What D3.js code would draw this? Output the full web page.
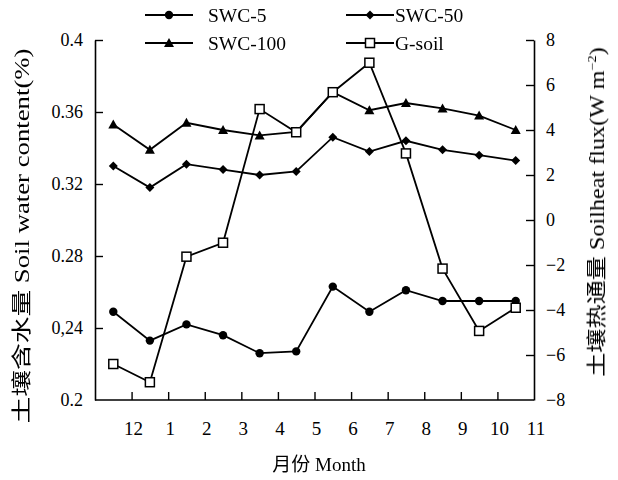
<!DOCTYPE html>
<html>
<head>
<meta charset="utf-8">
<script src="https://cdn.jsdelivr.net/npm/d3@7"></script>
<style>
  body { margin: 0; background: #fff; }
  svg text { font-family: "Liberation Serif", "Noto Sans CJK SC", serif; fill: #000; }
</style>
</head>
<body>
<svg id="chart"></svg>
<script>
// month labels (Dec .. Nov), points sit between ticks
const months = ["12", "1", "2", "3", "4", "5", "6", "7", "8", "9", "10", "11"];
const swc5 = [0.249, 0.233, 0.242, 0.236, 0.226, 0.227, 0.263, 0.249, 0.261, 0.255, 0.255, 0.255];
const swc50 = [0.330, 0.318, 0.331, 0.328, 0.325, 0.327, 0.346, 0.338, 0.344, 0.339, 0.336, 0.333];
const swc100 = [0.353, 0.339, 0.354, 0.350, 0.347, 0.349, 0.371, 0.361, 0.365, 0.362, 0.358, 0.350];
const gsoil = [-6.40, -7.21, -1.63, -1.01, 4.93, 3.90, 5.68, 6.99, 2.96, -2.16, -4.93, -3.90];
const leftTicks = [0.2, 0.24, 0.28, 0.32, 0.36, 0.4];
const leftTickLabels = ["0.2", "0,24", "0.28", "0.32", "0.36", "0.4"];
const rightTicks = [-8, -6, -4, -2, 0, 2, 4, 6, 8];

const width = 618, height = 480;
const plotLeft = 95, plotRight = 534, plotTop = 40, plotBottom = 400;

const svg = d3.select("#chart").attr("width", width).attr("height", height);

// grey filter: keeps the rotated titles plain black
svg.append("defs").append("filter").attr("id", "grey")
  .append("feColorMatrix").attr("type", "saturate").attr("values", 0);

const x = d3.scaleLinear().domain([0, 12]).range([plotLeft, plotRight]);
const yL = d3.scaleLinear().domain([0.2, 0.4]).range([plotBottom, plotTop]);
const yR = d3.scaleLinear().domain([-8, 8]).range([plotBottom, plotTop]);

// axes
const xAxis = svg.append("g")
    .attr("transform", `translate(0,${plotBottom})`)
    .call(d3.axisBottom(x)
        .tickValues(d3.range(1, 13))
        .tickFormat((d, i) => months[i])
        .tickSizeInner(-8).tickSizeOuter(0).tickPadding(22));
xAxis.select(".domain").attr("d", `M${plotLeft},0H${plotRight}`);

const yAxisL = svg.append("g")
    .attr("transform", `translate(${plotLeft},0)`)
    .call(d3.axisLeft(yL)
        .tickValues(leftTicks)
        .tickFormat((d, i) => leftTickLabels[i])
        .tickSizeInner(-8).tickSizeOuter(0).tickPadding(12));

const yAxisR = svg.append("g")
    .attr("transform", `translate(${plotRight},0)`)
    .call(d3.axisRight(yR)
        .tickValues(rightTicks)
        .tickFormat(d => d < 0 ? "\u2212" + Math.abs(d) : d)
        .tickSizeInner(-8).tickSizeOuter(0).tickPadding(12));

[xAxis, yAxisL, yAxisR].forEach(g => {
  g.select(".domain").attr("stroke", "#000").attr("stroke-width", 1.6);
  g.selectAll(".tick line").attr("stroke", "#000").attr("stroke-width", 1.4);
  g.selectAll(".tick text").attr("font-size", 18);
});
xAxis.selectAll(".tick text").attr("font-size", 19).attr("dx", 1.5);
xAxis.selectAll(".tick").filter(d => d === 12).select("line").remove();
yAxisL.selectAll(".tick").filter(d => d === 0.2).select("line").remove();
yAxisR.selectAll(".tick").filter(d => d === -8).select("line").remove();
yAxisR.selectAll(".tick text").attr("text-anchor", "start");

// rotated axis titles, stretched along the baseline like the figure
function stretchTitle(t, cx, cy, len) {
  const k = len / t.node().getComputedTextLength();
  t.attr("transform", `translate(${cx},${cy}) rotate(-90) scale(${k},1)`);
}

const titles = svg.append("g").attr("filter", "url(#grey)");

const lt = titles.append("text")
    .attr("text-anchor", "middle")
    .attr("font-size", 20)
    .text("土壤含水量 Soil water content(%)");
stretchTitle(lt, 29, 236, 375);

const rt = titles.append("text")
    .attr("text-anchor", "middle")
    .attr("font-size", 20);
rt.append("tspan").text("土壤热通量 Soilheat flux(W m");
rt.append("tspan").attr("font-size", 12).attr("dy", -8).text("\u22122");
rt.append("tspan").attr("dy", 8).text(")");
stretchTitle(rt, 604, 212, 330);

svg.append("text")
    .attr("x", 319).attr("y", 471)
    .attr("text-anchor", "middle")
    .attr("font-size", 19)
    .text("月份 Month");

// series
const series = [
  { name: "SWC-5", values: swc5, scale: yL, marker: "circle" },
  { name: "SWC-50", values: swc50, scale: yL, marker: "diamond" },
  { name: "SWC-100", values: swc100, scale: yL, marker: "triangle" },
  { name: "G-soil", values: gsoil, scale: yR, marker: "square" }
];

function drawMarker(g, type, cx, cy) {
  if (type === "circle") {
    g.append("circle").attr("cx", cx).attr("cy", cy).attr("r", 4.2).attr("fill", "#000");
  } else if (type === "diamond") {
    g.append("path").attr("d", `M${cx},${cy - 4.5}L${cx + 4.5},${cy}L${cx},${cy + 4.5}L${cx - 4.5},${cy}Z`)
        .attr("fill", "#000");
  } else if (type === "triangle") {
    g.append("path").attr("d", `M${cx},${cy - 5}L${cx + 5},${cy + 4}L${cx - 5},${cy + 4}Z`)
        .attr("fill", "#000");
  } else {
    g.append("rect").attr("x", cx - 4.5).attr("y", cy - 4.5).attr("width", 9).attr("height", 9)
        .attr("fill", "#fff").attr("stroke", "#000").attr("stroke-width", 1.5);
  }
}

series.forEach(s => {
  const line = d3.line().x((d, i) => x(i + 0.5)).y(d => s.scale(d));
  const g = svg.append("g");
  g.append("path").datum(s.values)
      .attr("d", line)
      .attr("fill", "none").attr("stroke", "#000").attr("stroke-width", 1.8);
  s.values.forEach((v, i) => drawMarker(g, s.marker, x(i + 0.5), s.scale(v)));
});

// legend
const legendPos = [
  { lx: 145, ly: 15 }, { lx: 346, ly: 15 },
  { lx: 145, ly: 43 }, { lx: 346, ly: 43 }
];
const legendText = [208, 395, 208, 395];
series.forEach((s, i) => {
  const p = legendPos[i];
  const g = svg.append("g");
  g.append("line").attr("x1", p.lx).attr("x2", p.lx + 48)
      .attr("y1", p.ly).attr("y2", p.ly)
      .attr("stroke", "#000").attr("stroke-width", 2);
  drawMarker(g, s.marker, p.lx + 24, p.ly);
  g.append("text").attr("x", legendText[i]).attr("y", p.ly + 6.5)
      .attr("font-size", 19.5).text(s.name);
});
</script>
</body>
</html>
